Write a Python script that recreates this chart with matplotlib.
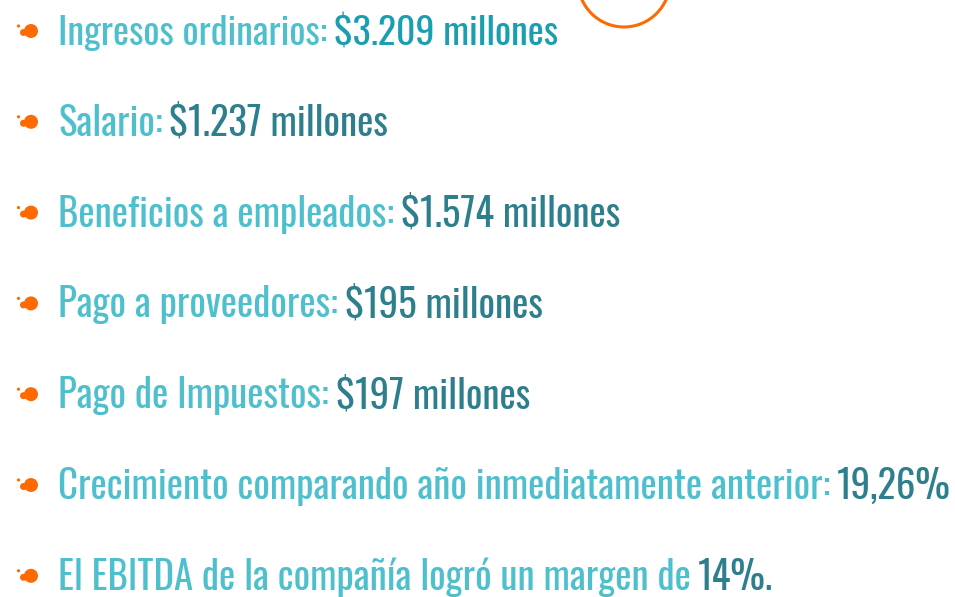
"""Resumen financiero: lista de indicadores con viñetas naranjas."""
import matplotlib
matplotlib.use("Agg")
import matplotlib.pyplot as plt
from matplotlib.patches import Circle

LABELS = [
    "Ingresos ordinarios:",
    "Salario:",
    "Beneficios a empleados:",
    "Pago a proveedores:",
    "Pago de Impuestos:",
    "Crecimiento comparando año inmediatamente anterior:",
    "El EBITDA de la compañía logró un margen de",
]
VALUES = [
    "$3.209 millones",
    "$1.237 millones",
    "$1.574 millones",
    "$195 millones",
    "$197 millones",
    "19,26%",
    "14%.",
]

LABEL_COLOR = "#4EC0CD"
VALUE_COLOR = "#2D7F8D"
FIRST_VALUE_COLOR = "#1A9FB0"
ORANGE = "#FF6A00"
FONT = ["Oswald", "DejaVu Sans"]

W, H = 955, 597
X_TEXT = 58
Y_FIRST = 45     # baseline of first line (px)
ROW_STEP = 90.8
TARGET_RIGHT = 950
FIRST_ROW_SCALE = 0.98   # first line is set a touch tighter in the original

fig = plt.figure(figsize=(W / 100, H / 100), dpi=100)
ax = fig.add_axes([0, 0, 1, 1])
ax.set_xlim(0, W)
ax.set_ylim(H, 0)
ax.axis("off")

renderer = fig.canvas.get_renderer()

# font size so the longest line spans the same width as the reference
base = 30
probe = ax.text(0, 0, LABELS[5] + " " + VALUES[5], fontsize=base, family=FONT)
wpx = probe.get_window_extent(renderer).width
probe.remove()
fs_all = base * (TARGET_RIGHT - X_TEXT) / wpx

# decorative circle top right
ax.add_patch(Circle((624, -19), 46, fill=False, edgecolor=ORANGE, linewidth=2.2))

for i, (lab, val) in enumerate(zip(LABELS, VALUES)):
    fs = fs_all * (FIRST_ROW_SCALE if i == 0 else 1.0)
    yb = Y_FIRST + i * ROW_STEP
    yc = yb - 14
    # bullet
    ax.add_patch(Circle((31, yc), 7, color=ORANGE, lw=0))
    ax.add_patch(Circle((23.5, yc + 1.5), 3.5, color=ORANGE, lw=0))
    ax.add_patch(Circle((18.5, yc - 5), 1.6, color=ORANGE, lw=0))

    t = ax.text(X_TEXT, yb, lab, fontsize=fs, family=FONT, color=LABEL_COLOR,
                ha="left", va="baseline")
    bb = t.get_window_extent(renderer)
    x_val = X_TEXT + bb.width + fs * 0.25
    ax.text(x_val, yb, val, fontsize=fs, family=FONT,
            color=FIRST_VALUE_COLOR if i == 0 else VALUE_COLOR,
            ha="left", va="baseline")

fig.savefig("out.png", dpi=100)
